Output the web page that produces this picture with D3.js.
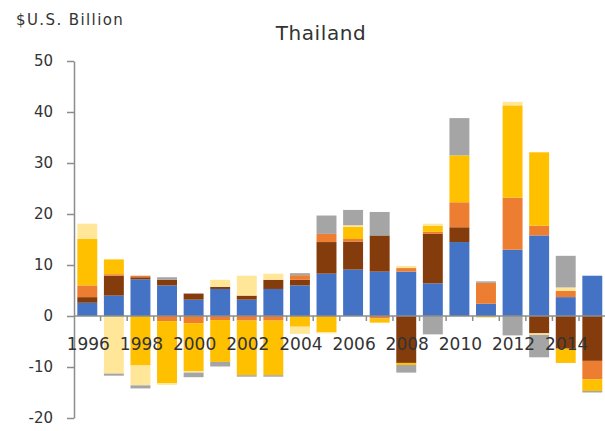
<!DOCTYPE html>
<html>
<head>
<meta charset="utf-8">
<script src="https://cdn.jsdelivr.net/npm/d3@7"></script>
<style>
  body { margin: 0; background: #fff; }
  text { font-family: "DejaVu Sans", Verdana, sans-serif; fill: #333; }
</style>
</head>
<body>
<svg id="chart" width="605" height="431"></svg>
<script>
// Years on the x axis
const years = d3.range(1996, 2016).map(String);

// Stacked series, $US billion
const seriesNames = ["blue", "brown", "orange", "gold", "lightYellow", "gray"];
const blue        = [2.6, 4.0, 7.2, 6.0, 3.2, 5.3, 3.2, 5.3, 6.0, 8.3, 9.1, 8.7, 8.7, 6.4, 14.5, 2.4, 13.0, 15.8, 3.7, 7.9];
const brown       = [1.1, 3.9, 0.4, 1.1, 1.2, 0.4, 0.8, 1.8, 1.1, 6.2, 5.5, 7.1, -9.2, 9.7, 2.9, 0, 0, -3.4, -6.4, -8.8];
const orange      = [2.3, 0.3, 0.3, -1.0, -1.4, -0.8, -0.9, -0.9, 0.9, 1.6, 0.5, -0.5, 0.7, 0.4, 4.9, 4.1, 10.2, 1.9, 1.2, -3.6];
const gold        = [9.1, 2.9, -9.7, -12.2, -9.4, -8.2, -10.7, -10.7, -2.1, -3.2, 2.4, -0.8, -0.4, 1.2, 9.2, 0, 18.1, 14.4, -2.8, -2.3];
const lightYellow = [3.0, -11.3, -3.9, -0.3, -0.3, 1.4, 3.9, 1.2, -1.4, -0.2, 0.3, 0, 0.4, 0.4, 0, -0.4, 0.7, -0.3, 0.7, 0];
const gray        = [0, -0.4, -0.6, 0.5, -0.9, -0.9, -0.3, -0.3, 0.4, 3.6, 3.0, 4.6, -1.5, -3.6, 7.3, 0.3, -3.8, -4.4, 6.2, -0.3];

const yTicks = [-20, -10, 0, 10, 20, 30, 40, 50];
const xLabels = ["1996", "1998", "2000", "2002", "2004", "2006", "2008", "2010", "2012", "2014"];

const colors = {
    blue: "#4472C4",
    brown: "#843C0C",
    orange: "#ED7D31",
    gold: "#FFC000",
    lightYellow: "#FFE699",
    gray: "#A5A5A5"
};

// Build rows for d3.stack
const columns = { blue, brown, orange, gold, lightYellow, gray };
const rows = years.map((y, i) => {
    const r = { year: y };
    seriesNames.forEach(s => { r[s] = columns[s][i]; });
    return r;
});

const svg = d3.select("#chart");
const axisColor = "#8c8c8c";

const x = d3.scaleBand()
    .domain(years)
    .range([74, 605.6])
    .paddingInner(0.25)
    .paddingOuter(0.125);

const y = d3.scaleLinear()
    .domain([-20, 50])
    .range([418, 61]);

const stacked = d3.stack()
    .keys(seriesNames)
    .offset(d3.stackOffsetDiverging)(rows);

// Bars
svg.append("g")
    .selectAll("g")
    .data(stacked)
    .join("g")
    .attr("fill", d => colors[d.key])
    .selectAll("rect")
    .data(d => d)
    .join("rect")
    .attr("x", d => x(d.data.year))
    .attr("width", x.bandwidth())
    .attr("y", d => y(Math.max(d[0], d[1])))
    .attr("height", d => Math.abs(y(d[0]) - y(d[1])));

// Y axis
const yAxis = svg.append("g")
    .attr("transform", "translate(74,0)")
    .call(d3.axisLeft(y).tickValues(yTicks).tickFormat(d => String(d))
        .tickSize(7).tickPadding(14).tickSizeOuter(0));
yAxis.select(".domain").attr("stroke", axisColor).attr("stroke-width", 1.5);
yAxis.selectAll(".tick line").attr("stroke", axisColor).attr("stroke-width", 1.5);
yAxis.selectAll(".tick text")
    .attr("fill", "#333")
    .style("font-size", "15px")
    .style("font-family", "DejaVu Sans, sans-serif");

// Zero line with ticks between categories
const zeroY = y(0);
const xAxis = svg.append("g");
xAxis.append("line")
    .attr("x1", 74).attr("x2", 605)
    .attr("y1", zeroY).attr("y2", zeroY)
    .attr("stroke", axisColor)
    .attr("stroke-width", 1.5);
xAxis.selectAll(".sep")
    .data(years.slice(1))
    .join("line")
    .attr("class", "sep")
    .attr("x1", d => x(d) - x.step() * x.paddingInner() / 2)
    .attr("x2", d => x(d) - x.step() * x.paddingInner() / 2)
    .attr("y1", zeroY)
    .attr("y2", zeroY + 5)
    .attr("stroke", axisColor)
    .attr("stroke-width", 1.5);

// Year labels (drawn over the bars)
xAxis.selectAll(".yl")
    .data(xLabels)
    .join("text")
    .attr("class", "yl")
    .attr("x", d => x(d) + x.bandwidth() / 2 + 1)
    .attr("y", 350)
    .attr("text-anchor", "middle")
    .style("font-size", "17px")
    .text(d => d);

// Title and unit
svg.append("text")
    .attr("x", 321)
    .attr("y", 40)
    .attr("text-anchor", "middle")
    .style("font-size", "20px")
    .style("letter-spacing", "0.6px")
    .attr("fill", "#262626")
    .text("Thailand");

svg.append("text")
    .attr("x", 16)
    .attr("y", 25)
    .style("font-size", "15px")
    .style("letter-spacing", "1.4px")
    .attr("fill", "#333")
    .text("$U.S. Billion");
</script>
</body>
</html>
